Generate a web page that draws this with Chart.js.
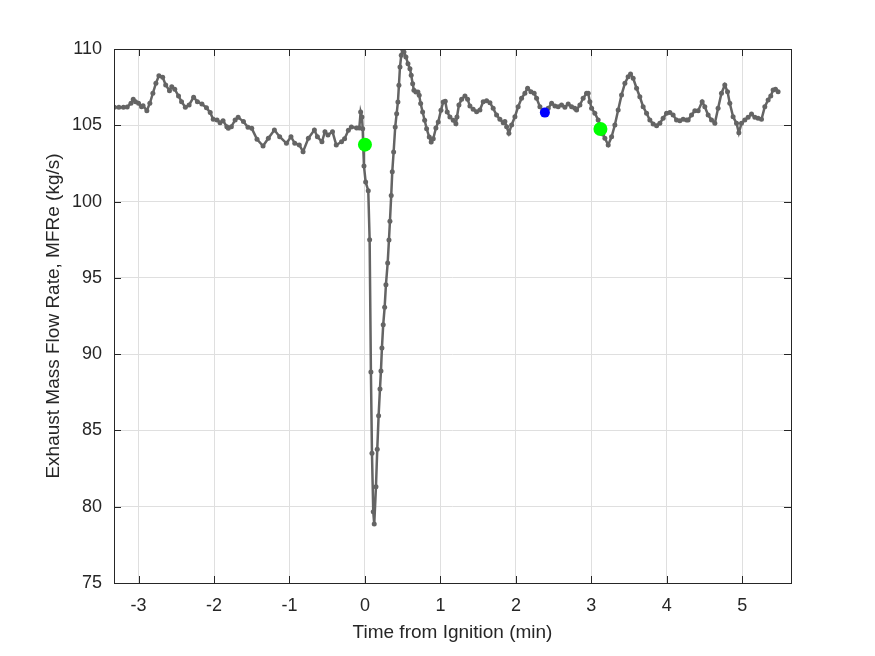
<!DOCTYPE html>
<html lang="en">
<head>
    <meta charset="UTF-8">
    <title>Exhaust Mass Flow Rate</title>
    <script src="https://cdn.jsdelivr.net/npm/chart.js@4"></script>
    <style>
        body { margin: 0; background: #fff; }
    </style>
</head>
<body>
    <canvas id="flowChart" width="875" height="656"></canvas>

    <script>
        // time from ignition (min) and MFRe (kg/s)
        const timeMin = [
            -3.32, -3.26, -3.20, -3.15, -3.10, -3.07, -3.04, -3.00, -2.96, -2.94,
            -2.89, -2.85, -2.81, -2.77, -2.73, -2.68, -2.64, -2.59, -2.56, -2.52,
            -2.47, -2.43, -2.38, -2.33, -2.27, -2.22, -2.16, -2.10, -2.05, -2.01,
            -1.96, -1.92, -1.88, -1.83, -1.81, -1.77, -1.72, -1.68, -1.61, -1.55,
            -1.50, -1.43, -1.35, -1.28, -1.20, -1.13, -1.04, -0.98, -0.93, -0.87,
            -0.82, -0.75, -0.67, -0.63, -0.57, -0.53, -0.49, -0.43, -0.38, -0.31,
            -0.27, -0.22, -0.18, -0.11, -0.075, -0.057, -0.040, -0.030, -0.023, -0.013,
            0.009, 0.044, 0.062, 0.079, 0.093, 0.110, 0.123, 0.146, 0.163, 0.181,
            0.199, 0.212, 0.225, 0.242, 0.261, 0.278, 0.301, 0.318, 0.331, 0.348,
            0.362, 0.380, 0.401, 0.420, 0.437, 0.450, 0.464, 0.481, 0.499, 0.517,
            0.543, 0.570, 0.596, 0.613, 0.632, 0.649, 0.675, 0.702, 0.719, 0.738,
            0.764, 0.791, 0.817, 0.852, 0.878, 0.905, 0.940, 0.971, 1.007, 1.037,
            1.064, 1.090, 1.126, 1.170, 1.205, 1.219, 1.245, 1.281, 1.325, 1.360,
            1.391, 1.434, 1.479, 1.523, 1.567, 1.612, 1.656, 1.699, 1.744, 1.788,
            1.832, 1.854, 1.877, 1.907, 1.943, 1.987, 2.030, 2.075, 2.119, 2.155,
            2.199, 2.242, 2.274, 2.318, 2.358, 2.384, 2.428, 2.473, 2.517, 2.560,
            2.605, 2.649, 2.693, 2.738, 2.781, 2.804, 2.848, 2.891, 2.936, 2.958,
            2.980, 3.003, 3.046, 3.090, 3.122, 3.152, 3.179, 3.223, 3.268, 3.311,
            3.355, 3.400, 3.444, 3.487, 3.519, 3.554, 3.599, 3.642, 3.686, 3.731,
            3.775, 3.819, 3.864, 3.907, 3.951, 3.996, 4.040, 4.083, 4.128, 4.172,
            4.216, 4.261, 4.282, 4.327, 4.371, 4.415, 4.468, 4.503, 4.547, 4.592,
            4.636, 4.679, 4.724, 4.768, 4.804, 4.834, 4.878, 4.923, 4.954, 4.989,
            5.033, 5.077, 5.122, 5.166, 5.209, 5.254, 5.298, 5.342, 5.377, 5.408,
            5.440, 5.474
        ];
        const mfre = [
            106.18, 106.18, 106.18, 106.20, 106.45, 106.70, 106.55, 106.44, 106.22, 106.28,
            105.96, 106.44, 107.10, 107.75, 108.25, 108.15, 107.64, 107.27, 107.53, 107.36,
            106.92, 106.55, 106.18, 106.33, 106.84, 106.55, 106.40, 106.15, 105.83, 105.39,
            105.35, 105.17, 105.30, 104.91, 104.80, 104.91, 105.35, 105.52, 105.24, 104.87,
            104.80, 104.08, 103.64, 104.15, 104.69, 104.25, 103.82, 104.25, 103.82, 103.71,
            103.27, 104.15, 104.69, 104.25, 103.92, 104.58, 104.36, 104.58, 103.71, 103.92,
            104.12, 104.67, 104.89, 104.82, 104.82, 105.87, 105.54, 104.78, 103.64, 102.33,
            101.29, 100.71, 97.50, 88.83, 83.50, 79.67, 78.86, 81.31, 83.76, 85.97,
            87.72, 88.90, 90.40, 91.93, 93.07, 94.55, 95.97, 97.48, 98.71, 100.39,
            101.96, 103.25, 104.89, 105.76, 106.53, 107.62, 108.82, 109.59, 109.98, 109.80,
            109.48, 109.04, 108.71, 108.28, 107.73, 107.29, 107.18, 107.18, 106.97, 106.42,
            105.87, 105.33, 104.78, 104.23, 103.91, 104.12, 104.82, 105.22, 105.98, 106.53,
            106.57, 105.87, 105.54, 105.33, 105.10, 105.54, 106.33, 106.70, 106.92, 106.70,
            106.26, 106.05, 105.89, 106.00, 106.55, 106.61, 106.48, 106.11, 105.67, 105.39,
            105.17, 105.24, 104.91, 104.48, 105.02, 105.56, 106.22, 106.77, 107.10, 107.43,
            107.20, 107.10, 106.77, 106.22, 105.94, 105.83, 106.11, 106.44, 106.26, 106.22,
            106.33, 106.18, 106.40, 106.22, 106.11, 106.00, 106.33, 106.77, 107.10, 107.10,
            106.55, 106.11, 105.79, 105.35, 104.76, 104.43, 104.15, 103.71, 104.25, 105.02,
            106.00, 106.99, 107.75, 108.18, 108.36, 108.08, 107.43, 106.87, 106.22, 105.79,
            105.35, 105.09, 104.97, 105.13, 105.46, 105.79, 105.83, 105.67, 105.35, 105.30,
            105.39, 105.35, 105.35, 105.67, 105.96, 105.96, 106.55, 106.22, 105.67, 105.35,
            105.13, 106.11, 107.10, 107.64, 107.20, 106.44, 105.56, 105.13, 104.51, 105.13,
            105.35, 105.52, 105.74, 105.52, 105.46, 105.39, 106.22, 106.66, 106.92, 107.31,
            107.36, 107.20
        ];

        // marked instants
        const greenTimes = [0.0, 3.12];
        const greenValues = [103.73, 104.76];
        const blueTimes = [2.384];
        const blueValues = [105.83];

        const xTicks = [-3, -2, -1, 0, 1, 2, 3, 4, 5];
        const yTicks = [75, 80, 85, 90, 95, 100, 105, 110];

        const axisColor = '#262626';
        const fontFamily = "'Liberation Sans', Arial, Helvetica, sans-serif";

        const toPoints = (xs, ys) => xs.map((x, i) => ({ x: x, y: ys[i] }));

        // box around the axes with inward ticks on all four sides
        const boxAxes = {
            id: 'boxAxes',
            afterDraw(chart) {
                const { ctx, chartArea: a, scales } = chart;
                const len = 7;
                ctx.save();
                ctx.strokeStyle = axisColor;
                ctx.lineWidth = 1;
                ctx.beginPath();
                xTicks.forEach(v => {
                    const px = Math.round(scales.x.getPixelForValue(v)) + 0.5;
                    ctx.moveTo(px, a.bottom); ctx.lineTo(px, a.bottom - len);
                    ctx.moveTo(px, a.top); ctx.lineTo(px, a.top + len);
                });
                yTicks.forEach(v => {
                    const py = Math.round(scales.y.getPixelForValue(v)) + 0.5;
                    ctx.moveTo(a.left, py); ctx.lineTo(a.left + len, py);
                    ctx.moveTo(a.right, py); ctx.lineTo(a.right - len, py);
                });
                ctx.stroke();
                ctx.strokeRect(Math.round(a.left) + 0.5, Math.round(a.top) + 0.5,
                    Math.round(a.right - a.left), Math.round(a.bottom - a.top));
                ctx.restore();
            }
        };

        new Chart(document.getElementById('flowChart'), {
            type: 'scatter',
            data: {
                datasets: [
                    {
                        label: 'green',
                        data: toPoints(greenTimes, greenValues),
                        backgroundColor: '#00ff00',
                        borderWidth: 0,
                        pointRadius: 7
                    },
                    {
                        label: 'blue',
                        data: toPoints(blueTimes, blueValues),
                        backgroundColor: '#0000ff',
                        borderWidth: 0,
                        pointRadius: 5
                    },
                    {
                        label: 'MFRe',
                        data: toPoints(timeMin, mfre),
                        showLine: true,
                        borderColor: '#646464',
                        borderWidth: 2.5,
                        backgroundColor: '#646464',
                        pointRadius: 2.5,
                        pointBorderWidth: 0,
                        tension: 0
                    }
                ]
            },
            options: {
                responsive: false,
                animation: false,
                layout: { padding: { left: 0, top: 49, right: 84, bottom: 0 } },
                plugins: {
                    legend: { display: false },
                    tooltip: { enabled: false }
                },
                scales: {
                    x: {
                        type: 'linear',
                        min: -3.325,
                        max: 5.645,
                        afterFit: s => { s.height = 73; },
                        afterBuildTicks: s => { s.ticks = xTicks.map(v => ({ value: v })); },
                        grid: { color: '#dfdfdf', drawTicks: false },
                        border: { display: false },
                        ticks: {
                            color: axisColor,
                            padding: 12,
                            maxRotation: 0,
                            font: { family: fontFamily, size: 18 }
                        },
                        title: {
                            display: true,
                            text: 'Time from Ignition (min)',
                            color: axisColor,
                            font: { family: fontFamily, size: 19 },
                            padding: { top: 0, bottom: 12 }
                        }
                    },
                    y: {
                        type: 'linear',
                        min: 75,
                        max: 110,
                        afterFit: s => { s.width = 114; },
                        afterBuildTicks: s => { s.ticks = yTicks.map(v => ({ value: v })); },
                        grid: { color: '#dfdfdf', drawTicks: false },
                        border: { display: false },
                        ticks: {
                            color: axisColor,
                            padding: 12,
                            font: { family: fontFamily, size: 18 }
                        },
                        title: {
                            display: true,
                            text: 'Exhaust Mass Flow Rate, MFRe (kg/s)',
                            color: axisColor,
                            font: { family: fontFamily, size: 19 },
                            padding: { top: 42, bottom: 0 }
                        }
                    }
                }
            },
            plugins: [boxAxes]
        });
    </script>
</body>
</html>
